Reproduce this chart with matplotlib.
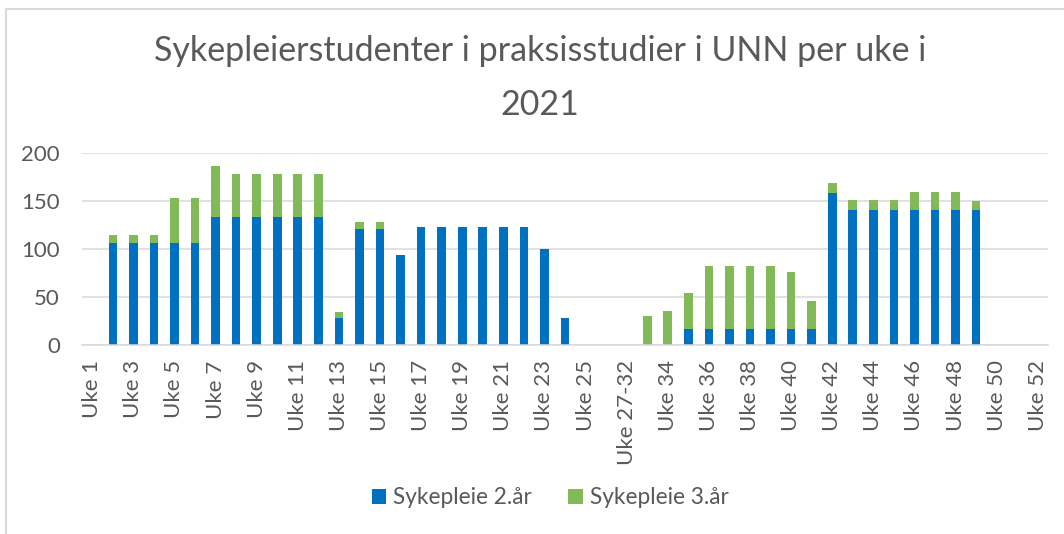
import matplotlib.pyplot as plt
import numpy as np
from matplotlib.lines import Line2D

# Categories (weeks); weeks 27-32 are collapsed into one category
weeks = ["Uke %d" % w for w in range(1, 27)] + ["Uke 27-32"] + ["Uke %d" % w for w in range(33, 53)]

# Sykepleie 2.år
year2 = [0, 106, 106, 106, 106, 106, 134, 134, 134, 134, 134, 134, 28, 121, 121, 94,
         123, 123, 123, 123, 123, 123, 100, 28, 0, 0,
         0,
         0, 0, 17, 17, 17, 17, 17, 17, 17, 159, 141, 141, 141, 141, 141, 141, 141, 0, 0, 0]

# Sykepleie 3.år
year3 = [0, 9, 9, 9, 47, 47, 53, 44, 44, 44, 44, 44, 6, 7, 7, 0,
         0, 0, 0, 0, 0, 0, 0, 0, 0, 0,
         0,
         30, 35, 37, 65, 65, 65, 65, 59, 29, 10, 10, 10, 10, 19, 19, 19, 9, 0, 0, 0]

title = "Sykepleierstudenter i praksisstudier i UNN per uke i\n2021"
series_labels = ["Sykepleie 2.år", "Sykepleie 3.år"]

blue = "#0070C0"
green = "#82BA5A"
grey_text = "#595959"
grid_col = "#D9D9D9"

plt.rcParams["font.family"] = ["Lato", "DejaVu Sans"]

fig = plt.figure(figsize=(10.64, 5.34), dpi=100)
ax = fig.add_axes([82 / 1064, 1 - 345 / 534, (1048 - 82) / 1064, (345 - 153.3) / 534])

x = np.arange(len(weeks))
ax.bar(x, year2, width=0.42, color=blue, label=series_labels[0], zorder=3)
ax.bar(x, year3, width=0.42, bottom=year2, color=green, label=series_labels[1], zorder=3)

ax.set_xlim(-0.5, len(weeks) - 0.5)
ax.set_ylim(0, 200)
ax.set_yticks([0, 50, 100, 150, 200])
ax.set_xticks(x[::2])
ax.set_xticklabels(weeks[::2], rotation=90)

ax.grid(axis="y", color=grid_col, linewidth=1.1, zorder=0)
for side in ["top", "right", "left"]:
    ax.spines[side].set_visible(False)
ax.spines["bottom"].set_color(grid_col)
ax.spines["bottom"].set_linewidth(1.1)
ax.spines["bottom"].set_zorder(4)

ax.tick_params(axis="x", length=0, pad=11, labelsize=16, labelcolor=grey_text)
ax.tick_params(axis="y", length=0, pad=16, labelsize=16, labelcolor=grey_text)

fig.text(540 / 1064, 1 - 35 / 534, title, ha="center", va="top", fontsize=24.5,
         color=grey_text, linespacing=1.85)

fig.legend(loc="center", bbox_to_anchor=(550 / 1064, 1 - 498 / 534), ncol=2, frameon=False,
           fontsize=16.3, labelcolor=grey_text, handlelength=0.65, handleheight=0.65,
           handletextpad=0.3, columnspacing=1.6)

# chart border (only top and left edges visible in the crop)
fig.add_artist(Line2D([6 / 1064, 6 / 1064], [0, 1 - 8.5 / 534], color=grid_col, linewidth=1.5,
                      transform=fig.transFigure))
fig.add_artist(Line2D([6 / 1064, 1], [1 - 8.5 / 534, 1 - 8.5 / 534], color=grid_col, linewidth=1.5,
                      transform=fig.transFigure))

plt.savefig("out.png", dpi=100)
